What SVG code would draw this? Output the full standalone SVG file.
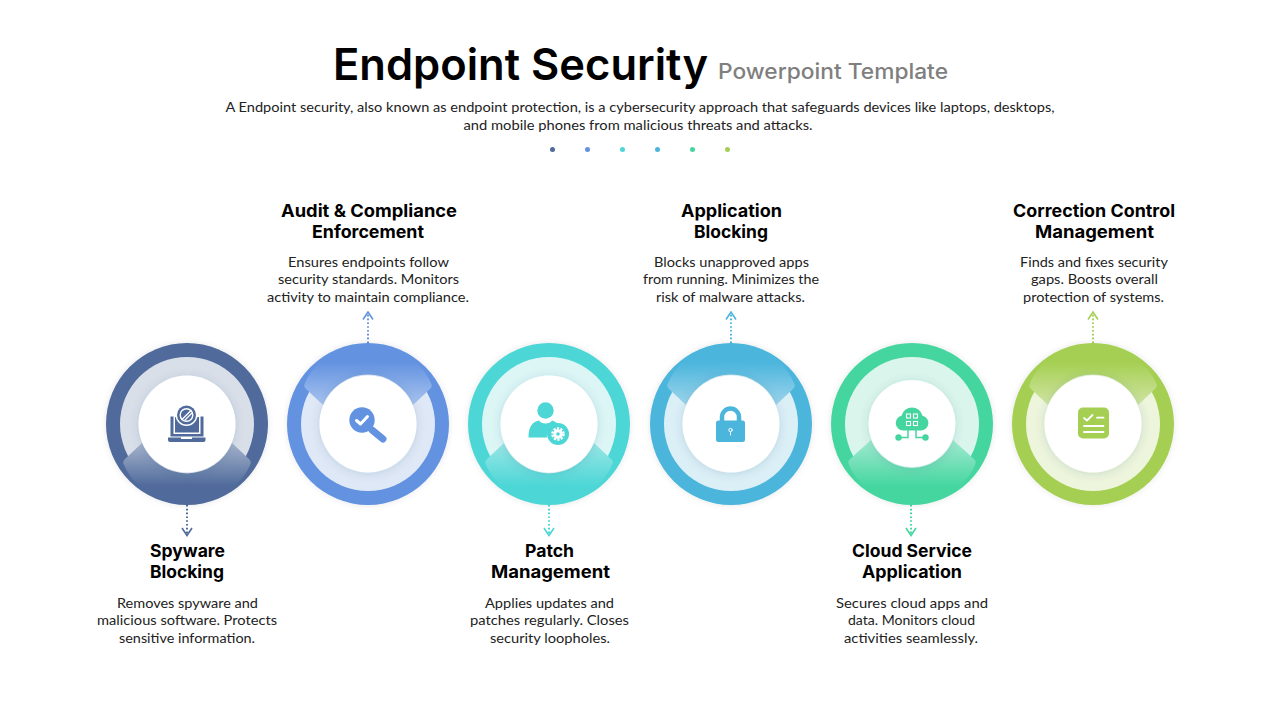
<svg xmlns="http://www.w3.org/2000/svg" xmlns:xlink="http://www.w3.org/1999/xlink" width="1280" height="720" viewBox="0 0 1280 720">
<style>
text{text-anchor:middle;font-family:"Lato","Noto Sans",sans-serif}
.title{font-family:"Inter","Open Sans",sans-serif;font-size:44px;font-weight:600;fill:#000}
.sub{font-family:"Inter","Open Sans",sans-serif;font-size:21.500px;font-weight:500;fill:#7f7f7f}
.desc{font-size:14px;fill:#222}
.h{font-family:"Inter","Open Sans",sans-serif;font-size:17.500px;font-weight:700;fill:#000}
.b{font-size:13.500px;fill:#222}
.link{fill:none;stroke-width:2;stroke-dasharray:1.600 2.200}
.white{fill:#fff}
.wl{fill:none;stroke:#fff;stroke-linecap:round;stroke-linejoin:round}
</style>
<defs>
<filter id="soft" x="-20%" y="-20%" width="140%" height="140%"><feDropShadow dx="0" dy="0" stdDeviation="3" flood-color="#000" flood-opacity=".1"/></filter>
<filter id="inner" x="-30%" y="-30%" width="160%" height="160%"><feDropShadow dx="0" dy="1" stdDeviation="5" flood-color="#33486b" flood-opacity=".16"/></filter>
<g id="wedge"><path d="M142,443 L125,459 Q122,462 124,465 C134,488 160,504 187,504 C214,504 240,488 250,465 Q252,462 249,459 L232,443 A48.500,48.500 0 0 1 142,443Z"/></g>
<linearGradient id="gw1" gradientUnits="userSpaceOnUse" x1="0" y1="443" x2="0" y2="486"><stop offset="0" stop-color="#a6b4cd"/><stop offset="1" stop-color="#4f6a9b"/></linearGradient>
<linearGradient id="gw2" gradientUnits="userSpaceOnUse" x1="0" y1="443" x2="0" y2="486"><stop offset="0" stop-color="#a9c4ef"/><stop offset="1" stop-color="#6292e0"/></linearGradient>
<linearGradient id="gw3" gradientUnits="userSpaceOnUse" x1="0" y1="443" x2="0" y2="486"><stop offset="0" stop-color="#9ae6e6"/><stop offset="1" stop-color="#4dd6d6"/></linearGradient>
<linearGradient id="gw4" gradientUnits="userSpaceOnUse" x1="0" y1="443" x2="0" y2="486"><stop offset="0" stop-color="#9dd5ec"/><stop offset="1" stop-color="#4bb5dc"/></linearGradient>
<linearGradient id="gw5" gradientUnits="userSpaceOnUse" x1="0" y1="443" x2="0" y2="486"><stop offset="0" stop-color="#9ce8cd"/><stop offset="1" stop-color="#45d6a0"/></linearGradient>
<linearGradient id="gw6" gradientUnits="userSpaceOnUse" x1="0" y1="443" x2="0" y2="486"><stop offset="0" stop-color="#d0e5a3"/><stop offset="1" stop-color="#a5cf52"/></linearGradient>
<marker id="m1" markerUnits="userSpaceOnUse" viewBox="-9 -7 10 14" refX="0" refY="0" markerWidth="10" markerHeight="14" orient="auto"><path d="M-7.500,-5 L0,0 L-7.500,5" fill="none" stroke="#4f6a9b" stroke-width="1.600"/></marker>
<marker id="m2" markerUnits="userSpaceOnUse" viewBox="-9 -7 10 14" refX="0" refY="0" markerWidth="10" markerHeight="14" orient="auto"><path d="M-7.500,-5 L0,0 L-7.500,5" fill="none" stroke="#6292e0" stroke-width="1.600"/></marker>
<marker id="m3" markerUnits="userSpaceOnUse" viewBox="-9 -7 10 14" refX="0" refY="0" markerWidth="10" markerHeight="14" orient="auto"><path d="M-7.500,-5 L0,0 L-7.500,5" fill="none" stroke="#4dd6d6" stroke-width="1.600"/></marker>
<marker id="m4" markerUnits="userSpaceOnUse" viewBox="-9 -7 10 14" refX="0" refY="0" markerWidth="10" markerHeight="14" orient="auto"><path d="M-7.500,-5 L0,0 L-7.500,5" fill="none" stroke="#4bb5dc" stroke-width="1.600"/></marker>
<marker id="m5" markerUnits="userSpaceOnUse" viewBox="-9 -7 10 14" refX="0" refY="0" markerWidth="10" markerHeight="14" orient="auto"><path d="M-7.500,-5 L0,0 L-7.500,5" fill="none" stroke="#45d6a0" stroke-width="1.600"/></marker>
<marker id="m6" markerUnits="userSpaceOnUse" viewBox="-9 -7 10 14" refX="0" refY="0" markerWidth="10" markerHeight="14" orient="auto"><path d="M-7.500,-5 L0,0 L-7.500,5" fill="none" stroke="#a5cf52" stroke-width="1.600"/></marker>
</defs>
<rect width="1280" height="720" fill="#fff"/>
<g id="header">
<text class="title" x="520.500" y="80" textLength="375" lengthAdjust="spacingAndGlyphs">Endpoint Security</text>
<text class="sub" x="833" y="79" textLength="230" lengthAdjust="spacingAndGlyphs">Powerpoint Template</text>
<text class="desc" x="640" y="112" textLength="829" lengthAdjust="spacingAndGlyphs">A Endpoint security, also known as endpoint protection, is a cybersecurity approach that safeguards devices like laptops, desktops,</text>
<text class="desc" x="638" y="129.500" textLength="349" lengthAdjust="spacingAndGlyphs">and mobile phones from malicious threats and attacks.</text>
<circle cx="552.500" cy="149.500" r="2.500" fill="#4f6a9b"/><circle cx="587.500" cy="149.500" r="2.500" fill="#6292e0"/><circle cx="622.500" cy="149.500" r="2.500" fill="#4dd6d6"/><circle cx="657.500" cy="149.500" r="2.500" fill="#4bb5dc"/><circle cx="692.500" cy="149.500" r="2.500" fill="#45d6a0"/><circle cx="727.500" cy="149.500" r="2.500" fill="#a5cf52"/>
</g>
<g id="connectors">
<path class="link" d="M187,505V535.500" stroke="#4f6a9b" marker-end="url(#m1)"/>
<path class="link" d="M368,343V312" stroke="#6292e0" marker-end="url(#m2)"/>
<path class="link" d="M549,505V535.500" stroke="#4dd6d6" marker-end="url(#m3)"/>
<path class="link" d="M731,343V312" stroke="#4bb5dc" marker-end="url(#m4)"/>
<path class="link" d="M911,505V535.500" stroke="#45d6a0" marker-end="url(#m5)"/>
<path class="link" d="M1093,343V312" stroke="#a5cf52" marker-end="url(#m6)"/>
</g>
<g id="node-spyware">
<circle cx="187" cy="424" r="81" fill="#4f6a9b" filter="url(#soft)"/>
<circle cx="187" cy="424" r="67" fill="#d9dfe9"/>
<use xlink:href="#wedge" href="#wedge" fill="url(#gw1)"/>
<circle cx="187" cy="424" r="48.500" class="white" filter="url(#inner)"/>
<g fill="#4f6a9b">
<path d="M170.500,416.500h3v17.500h27v-17.500h3v20h-33z"/><path d="M175,417h24v15.500h-24z"/>
<path d="M168,437.500h37.500v2.500a2,2 0 0 1 -2,2h-33.500a2,2 0 0 1 -2,-2zM181,437.500v1.500h11v-1.500z" fill-rule="evenodd"/>
</g>
<circle cx="186.500" cy="415" r="11" class="white"/>
<circle cx="186.500" cy="415" r="9.500" fill="#4f6a9b"/>
<circle cx="186.500" cy="415" r="6.300" class="wl" stroke-width="1.400"/>
<path d="M182,419.500L191,410.500M185,420L192,413" class="wl" stroke-width="1.300"/>
<text class="h" x="187.500" y="557" textLength="75" lengthAdjust="spacingAndGlyphs">Spyware</text>
<text class="h" x="187" y="578" textLength="74" lengthAdjust="spacingAndGlyphs">Blocking</text>
<text class="b" x="187.500" y="608" textLength="141" lengthAdjust="spacingAndGlyphs">Removes spyware and</text>
<text class="b" x="187" y="625" textLength="180" lengthAdjust="spacingAndGlyphs">malicious software. Protects</text>
<text class="b" x="187" y="643" textLength="136" lengthAdjust="spacingAndGlyphs">sensitive information.</text>
</g>
<g id="node-audit">
<circle cx="368" cy="424" r="81" fill="#6292e0" filter="url(#soft)"/>
<circle cx="368" cy="424" r="67" fill="#dfe8f6"/>
<use xlink:href="#wedge" href="#wedge" fill="url(#gw2)" transform="translate(368,424) scale(1,-1) translate(-187,-424)"/>
<circle cx="368" cy="424" r="48.500" class="white" filter="url(#inner)"/>
<path d="M372,430L383,439" stroke="#6292e0" stroke-width="7" stroke-linecap="round"/>
<circle cx="362" cy="420" r="12.700" fill="#6292e0"/>
<path d="M356.500,420.500L360.500,424L367.500,416.500" class="wl" stroke-width="3"/>
<text class="h" x="369" y="217" textLength="176" lengthAdjust="spacingAndGlyphs">Audit &amp; Compliance</text>
<text class="h" x="368" y="238" textLength="112" lengthAdjust="spacingAndGlyphs">Enforcement</text>
<text class="b" x="368.500" y="267" textLength="161" lengthAdjust="spacingAndGlyphs">Ensures endpoints follow</text>
<text class="b" x="368.500" y="284" textLength="181" lengthAdjust="spacingAndGlyphs">security standards. Monitors</text>
<text class="b" x="368" y="302" textLength="202" lengthAdjust="spacingAndGlyphs">activity to maintain compliance.</text>
</g>
<g id="node-patch">
<circle cx="549" cy="424" r="81" fill="#4dd6d6" filter="url(#soft)"/>
<circle cx="549" cy="424" r="67" fill="#dcf6f6"/>
<use xlink:href="#wedge" href="#wedge" fill="url(#gw3)" transform="translate(362,0)"/>
<circle cx="549" cy="424" r="48.500" class="white" filter="url(#inner)"/>
<g fill="#4dd6d6"><circle cx="545.500" cy="410.500" r="8.200"/>
<path d="M528.500,437.500C528.500,427 532,422 539,420.500C541,424.500 550,424.500 552,420.500C554,421 556,422 557.500,423.500C550,425 546,432 547,437.500z"/>
<circle cx="558" cy="434" r="11"/></g>
<circle cx="558" cy="434" r="3.300" class="wl" stroke-width="3"/>
<circle cx="558" cy="434" r="5.600" fill="none" stroke="#fff" stroke-width="2.400" stroke-dasharray="2.200 1.320"/>
<text class="h" x="549.500" y="557" textLength="49" lengthAdjust="spacingAndGlyphs">Patch</text>
<text class="h" x="550.500" y="578" textLength="119" lengthAdjust="spacingAndGlyphs">Management</text>
<text class="b" x="549.500" y="608" textLength="129" lengthAdjust="spacingAndGlyphs">Applies updates and</text>
<text class="b" x="549.500" y="625" textLength="159" lengthAdjust="spacingAndGlyphs">patches regularly. Closes</text>
<text class="b" x="550" y="643" textLength="120" lengthAdjust="spacingAndGlyphs">security loopholes.</text>
</g>
<g id="node-application">
<circle cx="731" cy="424" r="81" fill="#4bb5dc" filter="url(#soft)"/>
<circle cx="731" cy="424" r="67" fill="#dbeff7"/>
<use xlink:href="#wedge" href="#wedge" fill="url(#gw4)" transform="translate(731,424) scale(1,-1) translate(-187,-424)"/>
<circle cx="731" cy="424" r="48.500" class="white" filter="url(#inner)"/>
<path d="M722,421V417a8.500,8.500 0 0 1 17,0V421" fill="none" stroke="#4bb5dc" stroke-width="4.500"/>
<rect x="716" y="420.500" width="29" height="21.500" rx="2.500" fill="#4bb5dc"/>
<circle cx="730.500" cy="430" r="1.700" class="wl" stroke-width="1"/><path d="M730.500,432V435" class="wl" stroke-width="1"/>
<text class="h" x="731.500" y="217" textLength="101" lengthAdjust="spacingAndGlyphs">Application</text>
<text class="h" x="731" y="238" textLength="74" lengthAdjust="spacingAndGlyphs">Blocking</text>
<text class="b" x="731.500" y="267" textLength="155" lengthAdjust="spacingAndGlyphs">Blocks unapproved apps</text>
<text class="b" x="731" y="284" textLength="176" lengthAdjust="spacingAndGlyphs">from running. Minimizes the</text>
<text class="b" x="730.500" y="302" textLength="149" lengthAdjust="spacingAndGlyphs">risk of malware attacks.</text>
</g>
<g id="node-cloud">
<circle cx="912" cy="424" r="81" fill="#45d6a0" filter="url(#soft)"/>
<circle cx="912" cy="424" r="67" fill="#daf6ec"/>
<path d="M871,440 L850,459 Q847,462 849,465 C859,488 885,504 912,504 C939,504 965,488 975,465 Q977,462 974,459 L953,440 A44,44 0 0 1 871,440Z" fill="url(#gw5)"/>
<circle cx="912" cy="423.500" r="43.500" class="white" filter="url(#inner)"/>
<path d="M903,430.500a7.500,7.500 0 0 1 -1.500,-14.800a10.800,10.800 0 0 1 21,0a7.500,7.500 0 0 1 -1,14.800z" fill="#45d6a0"/>
<g fill="none" stroke="#fff" stroke-width="1.100"><rect x="906.500" y="414" width="4" height="4"/><rect x="913.500" y="414" width="4" height="4"/><rect x="906.500" y="421.500" width="4" height="4"/><rect x="913.500" y="421.500" width="4" height="4"/></g>
<g fill="#45d6a0"><circle cx="898.500" cy="437.500" r="3.200"/><circle cx="925.500" cy="437.500" r="3.200"/></g>
<path d="M898.500,437.500H908V430M925.500,437.500H916V430" fill="none" stroke="#45d6a0" stroke-width="1.500"/>
<text class="h" x="912" y="557" textLength="120" lengthAdjust="spacingAndGlyphs">Cloud Service</text>
<text class="h" x="912" y="578" textLength="100" lengthAdjust="spacingAndGlyphs">Application</text>
<text class="b" x="912" y="608" textLength="152" lengthAdjust="spacingAndGlyphs">Secures cloud apps and</text>
<text class="b" x="911.500" y="625" textLength="127" lengthAdjust="spacingAndGlyphs">data. Monitors cloud</text>
<text class="b" x="911" y="643" textLength="134" lengthAdjust="spacingAndGlyphs">activities seamlessly.</text>
</g>
<g id="node-correction">
<circle cx="1093" cy="424" r="81" fill="#a5cf52" filter="url(#soft)"/>
<circle cx="1093" cy="424" r="67" fill="#edf5dc"/>
<use xlink:href="#wedge" href="#wedge" fill="url(#gw6)" transform="translate(1093,424) scale(1,-1) translate(-187,-424)"/>
<circle cx="1093" cy="424" r="48.500" class="white" filter="url(#inner)"/>
<rect x="1078" y="407.500" width="31" height="31" rx="5" fill="#a5cf52"/>
<path d="M1084,418L1087,420.500L1092.500,415M1097,417.700H1103.500M1084,426H1103.500M1084,432H1103.500" class="wl" stroke-width="1.800"/>
<text class="h" x="1094" y="217" textLength="162" lengthAdjust="spacingAndGlyphs">Correction Control</text>
<text class="h" x="1094.500" y="238" textLength="119" lengthAdjust="spacingAndGlyphs">Management</text>
<text class="b" x="1094" y="267" textLength="148" lengthAdjust="spacingAndGlyphs">Finds and fixes security</text>
<text class="b" x="1094.500" y="284" textLength="127" lengthAdjust="spacingAndGlyphs">gaps. Boosts overall</text>
<text class="b" x="1093.500" y="302" textLength="141" lengthAdjust="spacingAndGlyphs">protection of systems.</text>
</g>
</svg>
